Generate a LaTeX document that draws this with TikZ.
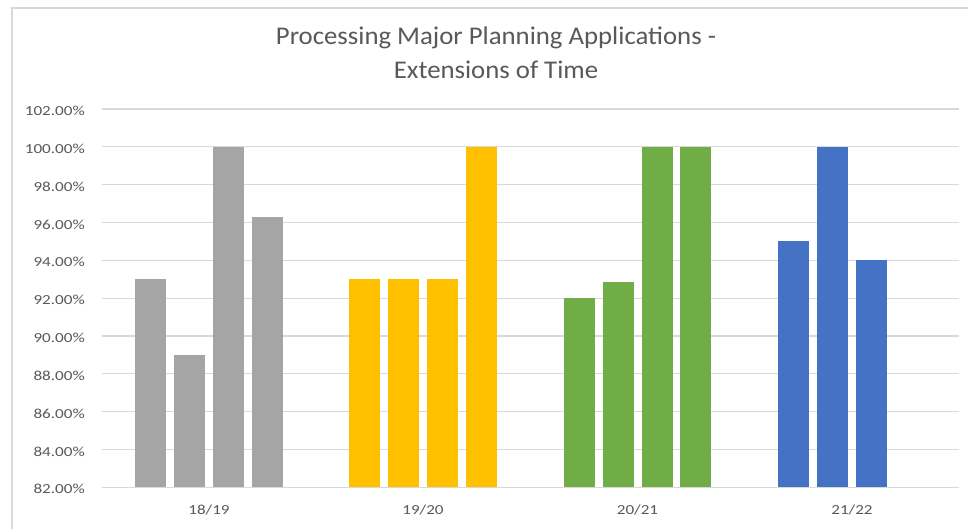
\documentclass[tikz,border=0pt]{standalone}
\usepackage{fontspec}
\setmainfont{Carlito}
\newfontfamily\smallfnt[FakeStretch=1.24]{Carlito}
\newfontfamily\titlefnt[FakeStretch=1.05]{Carlito}
\definecolor{gridc}{HTML}{D9D9D9}
\definecolor{labc}{HTML}{595959}
\definecolor{sA}{HTML}{A5A5A5}
\definecolor{sB}{HTML}{FFC000}
\definecolor{sC}{HTML}{70AD47}
\definecolor{sD}{HTML}{4472C4}
\tikzset{
  gridline/.style={draw=gridc, line width=1.3pt},
  ticklab/.style={anchor=east, text=labc, font=\smallfnt\fontsize{13.8}{16}\selectfont, inner sep=0pt, yshift=-2pt},
  catlab/.style={anchor=center, text=labc, font=\smallfnt\fontsize{13.8}{16}\selectfont, inner sep=0pt},
  titlelab/.style={anchor=center, text=labc, font=\titlefnt\fontsize{25.5}{30}\selectfont, inner sep=0pt},
}
\begin{document}
\begin{tikzpicture}[x=1pt,y=-1pt]
\useasboundingbox (0,0) rectangle (968,529);
\fill[white] (0,0) rectangle (968,529);
% chart border
\draw[gridc, line width=1.5pt] (12,535) -- (12,8) -- (975,8);
% gridlines and tick labels
\foreach \v [count=\i from 0] in {82,84,...,102} {
  \pgfmathsetmacro{\yy}{487.3-37.83*\i}
  \draw[gridline] (101.7,\yy) -- (959,\yy);
  \node[ticklab] (t\v) at (85,\yy) {\v.00\%};
}
% bars: colour, left edge, value
\def\bar#1#2#3{\fill[#1] (#2,487.3) rectangle (#2+31.3,{487.3-18.915*(#3-82)});}
\bar{sA}{135}{93}
\bar{sA}{174}{89}
\bar{sA}{213}{100}
\bar{sA}{252}{96.3}
\bar{sB}{349}{93}
\bar{sB}{388}{93}
\bar{sB}{427}{93}
\bar{sB}{466}{100}
\bar{sC}{564}{92}
\bar{sC}{603}{92.86}
\bar{sC}{642}{100}
\bar{sC}{680}{100}
\bar{sD}{778}{95}
\bar{sD}{817}{100}
\bar{sD}{856}{94}
% category labels
\node[catlab] (c1) at (209,509.5) {18/19};
\node[catlab] (c2) at (423,509.5) {19/20};
\node[catlab] (c3) at (637.5,509.5) {20/21};
\node[catlab] (c4) at (852,509.5) {21/22};
% title
\node[titlelab] (title1) at (496,38) {Processing Major Planning Applications -};
\node[titlelab] (title2) at (496,70) {Extensions of Time};
\end{tikzpicture}
\end{document}
